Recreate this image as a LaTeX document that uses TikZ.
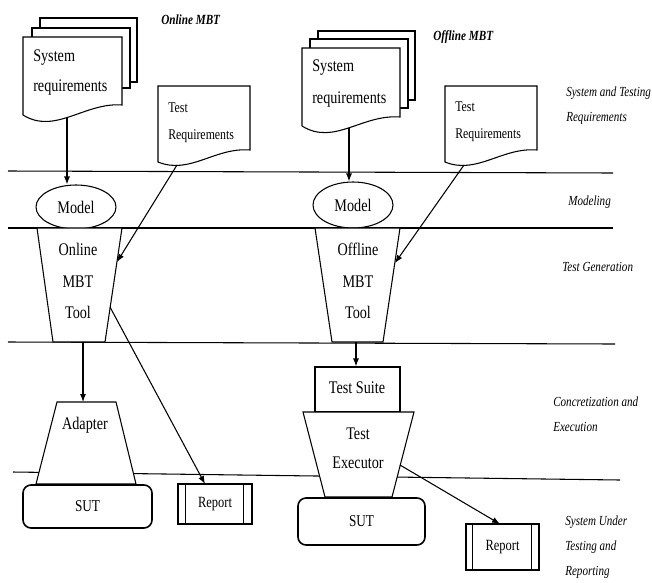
\documentclass[tikz,border=0pt]{standalone}
\usepackage{fontspec}
\setmainfont{Liberation Serif}[FakeStretch=0.8]
\usetikzlibrary{arrows.meta,shapes.geometric,calc}
\begin{document}
\begin{tikzpicture}[x=0.75pt,y=-0.75pt,
  shp/.style={draw,line width=0.8pt,fill=white},
  lane/.style={line width=0.8pt},
  arr/.style={-{Latex[length=6pt,width=4.5pt]},line width=0.8pt},
  maintxt/.style={inner sep=0pt,font=\fontsize{13.3}{23}\selectfont},
  doctxt/.style={inner sep=0pt,anchor=west,align=left,font=\fontsize{13.3}{22.5}\selectfont},
  treqtxt/.style={inner sep=0pt,anchor=west,align=left,font=\fontsize{11.1}{20.5}\selectfont},
  lanelbl/.style={inner sep=0pt,anchor=west,align=left,font=\fontsize{10.4}{18.75}\selectfont\itshape},
  headlbl/.style={inner sep=0pt,anchor=west,font=\fontsize{10.5}{12}\selectfont\bfseries\itshape},
  sutbox/.style={draw,line width=1.2pt,rounded corners=6pt,inner sep=0pt,font=\fontsize{12.4}{14}\selectfont},
  repbox/.style={draw,line width=0.8pt,inner sep=0pt,font=\fontsize{11.7}{14}\selectfont},
  modelnode/.style={draw,ellipse,line width=0.8pt,fill=white,inner sep=0pt,font=\fontsize{13.3}{15}\selectfont},
  suitebox/.style={draw,line width=0.8pt,fill=white,inner sep=0pt,font=\fontsize{13.3}{15}\selectfont}
]
\useasboundingbox (0,0) rectangle (652,582);

% swim-lane lines
\draw[lane] (8,171) -- (613,173);
\draw[lane] (8,228) -- (613,228);
\draw[lane] (8,342) -- (615,344);
\draw[lane] (13,472) -- (620,480);

% ---------- Online MBT (left) ----------
\draw[shp] (40,18) rectangle (137,82);
\draw[shp] (32,28) rectangle (130,88);
\draw[shp] (23,37) -- (122,37) -- (122,105) .. controls (85,102) and (55,135) .. (23,115) -- cycle;
\node[doctxt] (sr1) at (33,73) {System\\requirements};
\coordinate (sr1o) at (67,117);

\draw[shp] (158,86) -- (250,86) -- (250,150) .. controls (215,147) and (190,175) .. (158,162) -- cycle;
\node[treqtxt] (tr1) at (168,123) {Test\\Requirements};
\coordinate (tr1o) at (177,165);

\node[modelnode,minimum width=60pt,minimum height=33pt] (m1) at (76,207) {Model};

\draw[shp] (37,228) -- (122,228) -- (105,342) -- (53,342) -- cycle;
\node[maintxt,align=center,font=\fontsize{13.3}{23.6}\selectfont] (tool1) at (78,281) {Online\\MBT\\Tool};
\coordinate (t1a) at (117,262);
\coordinate (t1b) at (110,307);
\coordinate (t1bot) at (83,342);

\draw[shp] (57,402) -- (116,402) -- (136,484) -- (36,484) -- cycle;
\node[maintxt] (ad) at (85,425) {Adapter};
\coordinate (adtop) at (83,402);

\node[sutbox,minimum width=96.75pt,minimum height=32.25pt] (sut1) at (87.5,506.5) {SUT};

\node[repbox,minimum width=55.5pt,minimum height=30pt] (rep1) at (215,504) {Report};
\draw[line width=0.8pt] ($(rep1.north west)+(8,0)$) -- ($(rep1.south west)+(8,0)$);
\draw[line width=0.8pt] ($(rep1.north east)+(-9,0)$) -- ($(rep1.south east)+(-9,0)$);
\coordinate (r1in) at (205,484);

\node[headlbl] (h1) at (161,20) {Online MBT};

% ---------- Offline MBT (right) ----------
\draw[shp] (318,31) rectangle (415,100);
\draw[shp] (310,39) rectangle (408,108);
\draw[shp] (302,48) -- (400,48) -- (400,117) .. controls (362,114) and (334,146) .. (302,126) -- cycle;
\node[doctxt,font=\fontsize{13.3}{24}\selectfont] (sr2) at (312,84) {System\\requirements};
\coordinate (sr2o) at (349,128);

\draw[shp] (445,86) -- (537,86) -- (537,150) .. controls (502,147) and (477,175) .. (445,162) -- cycle;
\node[treqtxt] (tr2) at (455,122) {Test\\Requirements};
\coordinate (tr2o) at (464,165);

\node[modelnode,minimum width=60pt,minimum height=34.5pt] (m2) at (353,205) {Model};

\draw[shp] (315,228) -- (400,228) -- (383,342) -- (332,342) -- cycle;
\node[maintxt,align=center,font=\fontsize{13.3}{23.6}\selectfont] (tool2) at (358,281) {Offline\\MBT\\Tool};
\coordinate (t2a) at (395,263);
\coordinate (t2bot) at (356,342);

\node[suitebox,minimum width=63.75pt,minimum height=33.75pt] (ts) at (357.5,389.5) {};
\node[maintxt] (tstxt) at (357,388) {Test Suite};

\draw[shp] (303,412) -- (414,412) -- (392,497) -- (325,497) -- cycle;
\node[maintxt,align=center,font=\fontsize{13.3}{21.75}\selectfont] (ex) at (358,448) {Test\\Executor};
\coordinate (exr) at (400,465);

\node[sutbox,minimum width=95.25pt,minimum height=35.25pt] (sut2) at (361.5,521.5) {SUT};

\node[repbox,minimum width=54.75pt,minimum height=34.5pt] (rep2) at (502.5,547) {Report};
\draw[line width=0.8pt] ($(rep2.north west)+(7,0)$) -- ($(rep2.south west)+(7,0)$);
\draw[line width=0.8pt] ($(rep2.north east)+(-8,0)$) -- ($(rep2.south east)+(-8,0)$);
\coordinate (r2in) at (500,524);

\node[headlbl] (h2) at (433,37) {Offline MBT};

% ---------- connectors ----------
\draw[arr] (sr1o) -- (sr1o |- m1.north);
\draw[arr] (tr1o) -- (t1a);
\draw[arr] (t1bot) -- (adtop);
\draw[arr] (t1b) -- (r1in);
\draw[arr] (sr2o) -- (sr2o |- m2.north);
\draw[arr] (tr2o) -- (t2a);
\draw[arr] (t2bot) -- (t2bot |- ts.north);
\draw[arr] (exr) -- (r2in);

% ---------- lane labels ----------
\node[lanelbl] (l1) at (566,105.5) {System and Testing\\Requirements};
\node[lanelbl] (l2) at (568,202) {Modeling};
\node[lanelbl] (l3) at (562,267) {Test Generation};
\node[lanelbl] (l4) at (553,414.5) {Concretization and\\Execution};
\node[lanelbl] (l5) at (565,547) {System Under\\Testing and\\Reporting};
\end{tikzpicture}
\end{document}
